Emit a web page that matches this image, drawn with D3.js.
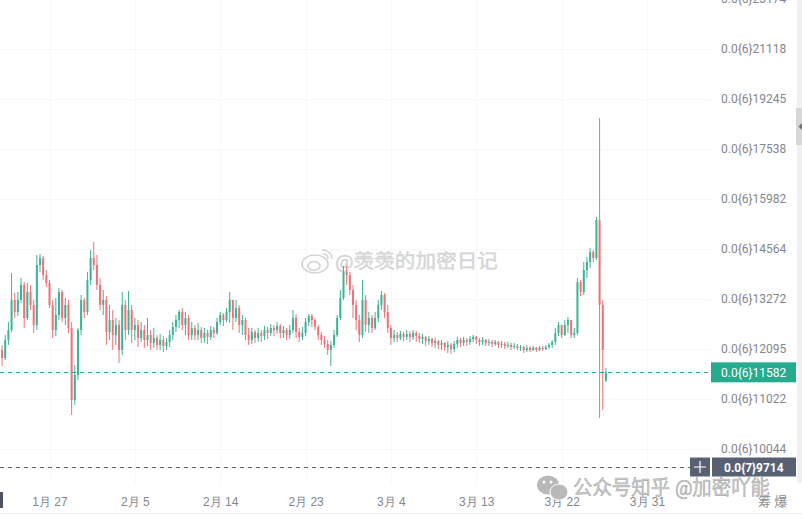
<!DOCTYPE html>
<html>
<head>
<meta charset="utf-8">
<script src="https://cdn.jsdelivr.net/npm/d3@7"></script>
<style>
html, body { margin: 0; padding: 0; background: #fff; overflow: hidden; }
svg { display: block; font-family: Roboto, 'Noto Sans CJK SC', sans-serif; }
</style>
</head>
<body>
<svg id="chart"></svg>
<script>
'use strict';
// prices are in units of 1e-11 (21118 -> 0.0{6}21118)

// 8h candles starting 2025-01-22 00:00
var firstCandle = new Date(2025, 0, 22, 0);
var candleHours = 8;

var opens = [
  12073,11895,12299,12530,13248,12956,13248,13622,12812,13446,
  13126,12647,14137,14322,13877,13673,13126,12530,12884,13446,
  12812,13126,12576,11002,11525,12530,13248,12956,13749,14322,
  14137,13622,13126,13248,12484,12764,12415,12647,12073,13126,
  12530,13004,12530,12647,12345,12530,12299,12415,12231,12345,
  12186,12299,12163,12254,12415,12600,12764,12956,12647,12812,
  12415,12576,12415,12530,12345,12461,12368,12530,12461,12717,
  12884,12764,12956,13248,12812,13052,12647,12764,12415,12299,
  12484,12345,12461,12391,12530,12461,12576,12530,12623,12461,
  12530,12415,12530,12812,12484,12368,12461,12717,12860,12764,
  12600,12415,12299,12209,12073,12186,12415,12812,13297,13955,
  13877,13496,13126,12764,12415,13248,12647,12812,12576,12812,
  13126,13371,12956,12576,12345,12415,12345,12438,12368,12438,
  12368,12461,12391,12322,12368,12277,12322,12231,12277,12186,
  12231,12140,12186,12095,12209,12299,12231,12299,12254,12322,
  12368,12299,12254,12299,12231,12254,12209,12254,12186,12209,
  12163,12186,12140,12163,12118,12140,12073,12118,12073,12118,
  12073,12118,12095,12140,12186,12254,12461,12647,12415,12647,
  12764,12415,12461,13698,13446,14006,14216,14483,14322,15369,
  13126,11400
];
var closes = [
  11895,12299,12530,13248,12956,13248,13622,12812,13446,13126,
  12647,14137,14322,13877,13673,13126,12530,12884,13446,12812,
  13126,12576,11002,11525,12530,13248,12956,13749,14322,14137,
  13622,13126,13248,12484,12764,12415,12647,12073,13126,12530,
  13004,12530,12647,12345,12530,12299,12415,12231,12345,12186,
  12299,12163,12254,12415,12600,12764,12956,12647,12812,12415,
  12576,12415,12530,12345,12461,12368,12530,12461,12717,12884,
  12764,12956,13248,12812,13052,12647,12764,12415,12299,12484,
  12345,12461,12391,12530,12461,12576,12530,12623,12461,12530,
  12415,12530,12812,12484,12368,12461,12717,12860,12764,12600,
  12415,12299,12209,12073,12186,12415,12812,13297,13955,13877,
  13496,13126,12764,12415,13248,12647,12812,12576,12812,13126,
  13371,12956,12576,12345,12415,12345,12438,12368,12438,12368,
  12461,12391,12322,12368,12277,12322,12231,12277,12186,12231,
  12140,12186,12095,12209,12299,12231,12299,12254,12322,12368,
  12299,12254,12299,12231,12254,12209,12254,12186,12209,12163,
  12186,12140,12163,12118,12140,12073,12118,12073,12118,12073,
  12118,12095,12140,12186,12254,12461,12647,12415,12647,12764,
  12415,12461,13698,13446,14006,14216,14483,14322,15369,13126,
  12073,11582
];
var highs = [
  12186,12415,12717,13929,13421,13446,13800,13698,13673,13622,
  13248,14403,14430,14376,14006,13749,13248,13297,13546,13496,
  13297,13248,12717,11741,12576,13371,13297,13955,14537,14754,
  14403,13800,13496,13346,13126,13004,12812,12764,13446,13248,
  13471,13126,12812,12764,12717,12647,12812,12530,12576,12415,
  12438,12391,12345,12530,12717,12884,13004,13052,12956,12884,
  12717,12647,12694,12600,12576,12530,12623,12600,12812,12956,
  12932,13052,13446,13248,13248,13126,12884,12812,12576,12576,
  12530,12576,12530,12623,12600,12670,12647,12717,12670,12623,
  12576,12647,13004,12908,12576,12600,12812,12908,12908,12812,
  12647,12484,12391,12299,12277,12530,12884,13496,14111,14111,
  13955,13622,13248,12884,13749,13371,12956,12884,12956,13248,
  13471,13421,13126,12647,12530,12484,12507,12484,12530,12507,
  12530,12507,12461,12438,12391,12391,12345,12345,12299,12299,
  12254,12277,12231,12277,12368,12345,12368,12345,12391,12415,
  12391,12345,12368,12322,12322,12299,12299,12277,12277,12254,
  12254,12231,12231,12209,12186,12163,12186,12163,12163,12140,
  12163,12163,12186,12231,12299,12576,12717,12647,12764,12836,
  12764,12576,13800,13749,14216,14349,14591,14537,15459,18578,
  13248,11676
];
var lows = [
  11719,11850,12186,12484,12812,12860,13174,12576,12764,13004,
  12461,12530,13955,13749,13571,13052,12345,12391,12764,12717,
  12647,12461,10700,10900,11418,12415,12812,12884,13622,14006,
  13496,13004,12884,12186,12299,12073,12186,11785,11961,12299,
  12415,12231,12299,12140,12254,12118,12163,12073,12118,12073,
  12073,12028,12073,12140,12299,12484,12576,12530,12415,12299,
  12299,12299,12299,12231,12231,12209,12299,12345,12415,12647,
  12623,12717,12694,12530,12717,12461,12415,12299,12186,12209,
  12231,12254,12254,12299,12322,12391,12391,12438,12345,12345,
  12299,12322,12461,12345,12254,12299,12391,12623,12600,12530,
  12299,12186,12118,11961,11719,12118,12368,12764,13248,13622,
  13371,12812,12530,12254,12345,12484,12461,12461,12530,12717,
  13004,12812,12461,12186,12254,12254,12299,12277,12299,12254,
  12299,12254,12231,12209,12163,12186,12140,12118,12095,12073,
  12051,12006,11984,12028,12118,12140,12163,12163,12186,12254,
  12209,12163,12186,12163,12163,12140,12163,12118,12118,12095,
  12118,12073,12095,12073,12051,12006,12028,12028,12051,12028,
  12051,12051,12073,12095,12118,12186,12391,12345,12391,12461,
  12345,12345,12415,13346,13371,13800,14058,14216,14269,10640,
  10799,11380
];

var priceTicks = [23174, 21118, 19245, 17538, 15982, 14564, 13272, 12095, 11022, 10044];
var dateTicks = [
  new Date(2025, 0, 27), new Date(2025, 1, 5), new Date(2025, 1, 14), new Date(2025, 1, 23),
  new Date(2025, 2, 4), new Date(2025, 2, 13), new Date(2025, 2, 22), new Date(2025, 2, 31)
];
var markPrice = 9714;   // grey dashed marker line

var width = 802, height = 519;
var plotRight = 711, plotBottom = 483;

var svg = d3.select('#chart')
    .attr('width', width)
    .attr('height', height);

svg.append('rect').attr('width', width).attr('height', height).attr('fill', '#fff');

// scales
var x = d3.scaleTime()
    .domain([dateTicks[0], dateTicks[dateTicks.length - 1]])
    .range([49.5, 647]);

var y = d3.scaleLog()
    .domain([12095, 21118])
    .range([349, 49]);

var candles = opens.map(function(o, i) {
  return {
    date: d3.timeHour.offset(firstCandle, i * candleHours),
    open: o, high: highs[i], low: lows[i], close: closes[i]
  };
});

// grid (very faint)
var grid = svg.append('g').attr('stroke', '#f8f8f9').attr('stroke-width', 1);
grid.selectAll('.hg').data(priceTicks).enter().append('line')
    .attr('x1', 0).attr('x2', plotRight)
    .attr('y1', function(d) { return Math.round(y(d)) + 0.5; })
    .attr('y2', function(d) { return Math.round(y(d)) + 0.5; });
grid.selectAll('.vg').data(dateTicks).enter().append('line')
    .attr('y1', 0).attr('y2', plotBottom)
    .attr('x1', function(d) { return Math.round(x(d)) + 0.5; })
    .attr('x2', function(d) { return Math.round(x(d)) + 0.5; });

// watermark in the middle
var wb = svg.append('g').attr('fill', 'none').attr('stroke', '#d4d4d4').attr('stroke-width', 1.6);
wb.append('ellipse').attr('cx', 315).attr('cy', 264).attr('rx', 13).attr('ry', 9);
wb.append('ellipse').attr('cx', 314).attr('cy', 266).attr('rx', 6).attr('ry', 4.5);
wb.append('path').attr('d', 'M322,250 a9,9 0 0 1 10,9');
wb.append('path').attr('d', 'M323,254 a4.5,4.5 0 0 1 5,5');
svg.append('text')
    .attr('x', 335).attr('y', 268)
    .attr('textLength', 163).attr('lengthAdjust', 'spacingAndGlyphs')
    .style('font-size', '19px')
    .attr('fill', '#dadada')
    .attr('stroke', '#cfcfcf').attr('stroke-width', 0.4)
    .text('@羡羡的加密日记');

// candles
svg.append('clipPath').attr('id', 'plotClip')
  .append('rect').attr('x', 0).attr('y', 0).attr('width', plotRight).attr('height', plotBottom);

var upColor = '#3bb597', downColor = '#ef7279';
function col(d) { return d.close >= d.open ? upColor : downColor; }

var cg = svg.append('g').attr('clip-path', 'url(#plotClip)');
var candle = cg.selectAll('.candle')
    .data(candles)
  .enter().append('g')
    .attr('class', 'candle');

candle.append('line')
    .attr('x1', function(d) { return x(d.date); })
    .attr('x2', function(d) { return x(d.date); })
    .attr('y1', function(d) { return y(d.high); })
    .attr('y2', function(d) { return y(d.low); })
    .attr('stroke', col)
    .attr('stroke-width', 1);

candle.append('rect')
    .attr('x', function(d) { return x(d.date) - 1; })
    .attr('width', 2)
    .attr('y', function(d) { return y(Math.max(d.open, d.close)); })
    .attr('height', function(d) { return Math.max(1, Math.abs(y(d.open) - y(d.close))); })
    .attr('fill', col);

// last price line and marker line
var lastPrice = closes[closes.length - 1];
svg.append('line')
    .attr('x1', 0).attr('x2', plotRight)
    .attr('y1', Math.round(y(lastPrice)) + 0.5).attr('y2', Math.round(y(lastPrice)) + 0.5)
    .attr('stroke', '#26a69a').attr('stroke-dasharray', '4,4');
svg.append('line')
    .attr('x1', 0).attr('x2', 690)
    .attr('y1', Math.round(y(markPrice)) + 0.5).attr('y2', Math.round(y(markPrice)) + 0.5)
    .attr('stroke', '#5f636c').attr('stroke-dasharray', '4,4');

// price axis
function fmtPrice(v) {
  var s = String(v);
  return '0.0{' + (11 - s.length) + '}' + s;
}

var yAxis = svg.append('g')
    .attr('transform', 'translate(' + plotRight + ',0)')
    .call(d3.axisRight(y).tickValues(priceTicks).tickFormat(fmtPrice).tickSize(0).tickPadding(10));
yAxis.select('.domain').remove();
yAxis.selectAll('text').style('font-size', '12px').attr('fill', '#83868e')
    .style('font-family', 'Roboto, sans-serif');

// last price label
var lp = svg.append('g').attr('transform', 'translate(711,' + (y(lastPrice) - 10) + ')');
lp.append('rect').attr('width', 85).attr('height', 20).attr('fill', '#26ab8e');
lp.append('text').attr('x', 10).attr('y', 14.5).attr('fill', '#fff')
    .style('font-size', '12px').style('font-family', 'Roboto, sans-serif')
    .text(fmtPrice(lastPrice));

// marker price label
var mk = svg.append('g').attr('transform', 'translate(690,' + (y(markPrice) - 9.5) + ')');
mk.append('rect').attr('width', 20).attr('height', 19).attr('fill', '#586174');
mk.append('path').attr('d', 'M4,9.5 H16 M10,3.5 V15.5').attr('stroke', '#fff').attr('stroke-width', 1.2);
mk.append('rect').attr('x', 22).attr('width', 84).attr('height', 19).attr('fill', '#586174');
mk.append('text').attr('x', 34).attr('y', 14).attr('fill', '#fff')
    .style('font-size', '12px').style('font-weight', 'bold').style('font-family', 'Roboto, sans-serif')
    .text(fmtPrice(markPrice));

// time axis
var xAxis = svg.append('g')
    .attr('transform', 'translate(0,' + plotBottom + ')')
    .call(d3.axisBottom(x).tickValues(dateTicks)
      .tickFormat(function(d) { return (d.getMonth() + 1) + '月 ' + d.getDate(); })
      .tickSize(0).tickPadding(14));
xAxis.select('.domain').remove();
xAxis.selectAll('text').style('font-size', '12px').attr('fill', '#83868e');

// bottom line and left handle
svg.append('line').attr('x1', 0).attr('x2', width).attr('y1', 513.5).attr('y2', 513.5).attr('stroke', '#ececec');
svg.append('rect').attr('x', 0).attr('y', 492).attr('width', 3).attr('height', 16).attr('fill', '#4d5260');

// right scroll strip
svg.append('rect').attr('x', 797).attr('y', 0).attr('width', 5).attr('height', plotBottom).attr('fill', '#f0f0f2');
svg.append('rect').attr('x', 796).attr('y', 108).attr('width', 6).attr('height', 37).attr('fill', '#d6d8dc');
svg.append('path').attr('d', 'M798.5,126.5 L802,123 L802,130 Z').attr('fill', '#6b6f78');

// bottom-right watermark
var wc = svg.append('g').attr('fill', '#b9b9b9');
wc.append('ellipse').attr('cx', 548).attr('cy', 485).attr('rx', 11).attr('ry', 9.5);
wc.append('ellipse').attr('cx', 559).attr('cy', 492).attr('rx', 9).attr('ry', 8).attr('stroke', '#fff').attr('stroke-width', 1);
wc.append('circle').attr('cx', 544).attr('cy', 482).attr('r', 1.5).attr('fill', '#fff');
wc.append('circle').attr('cx', 551).attr('cy', 482).attr('r', 1.5).attr('fill', '#fff');
svg.append('text')
    .attr('x', 573).attr('y', 495)
    .attr('textLength', 197).attr('lengthAdjust', 'spacingAndGlyphs')
    .style('font-size', '20px')
    .attr('fill', 'rgba(170,170,170,0.55)')
    .attr('stroke', 'rgba(130,130,130,0.6)').attr('stroke-width', 0.6)
    .text('公众号知乎 @加密吖能');
svg.append('text').attr('x', 758).attr('y', 506)
    .style('font-size', '13px').attr('fill', '#8a8d94')
    .text('筹 爆');
</script>
</body>
</html>
